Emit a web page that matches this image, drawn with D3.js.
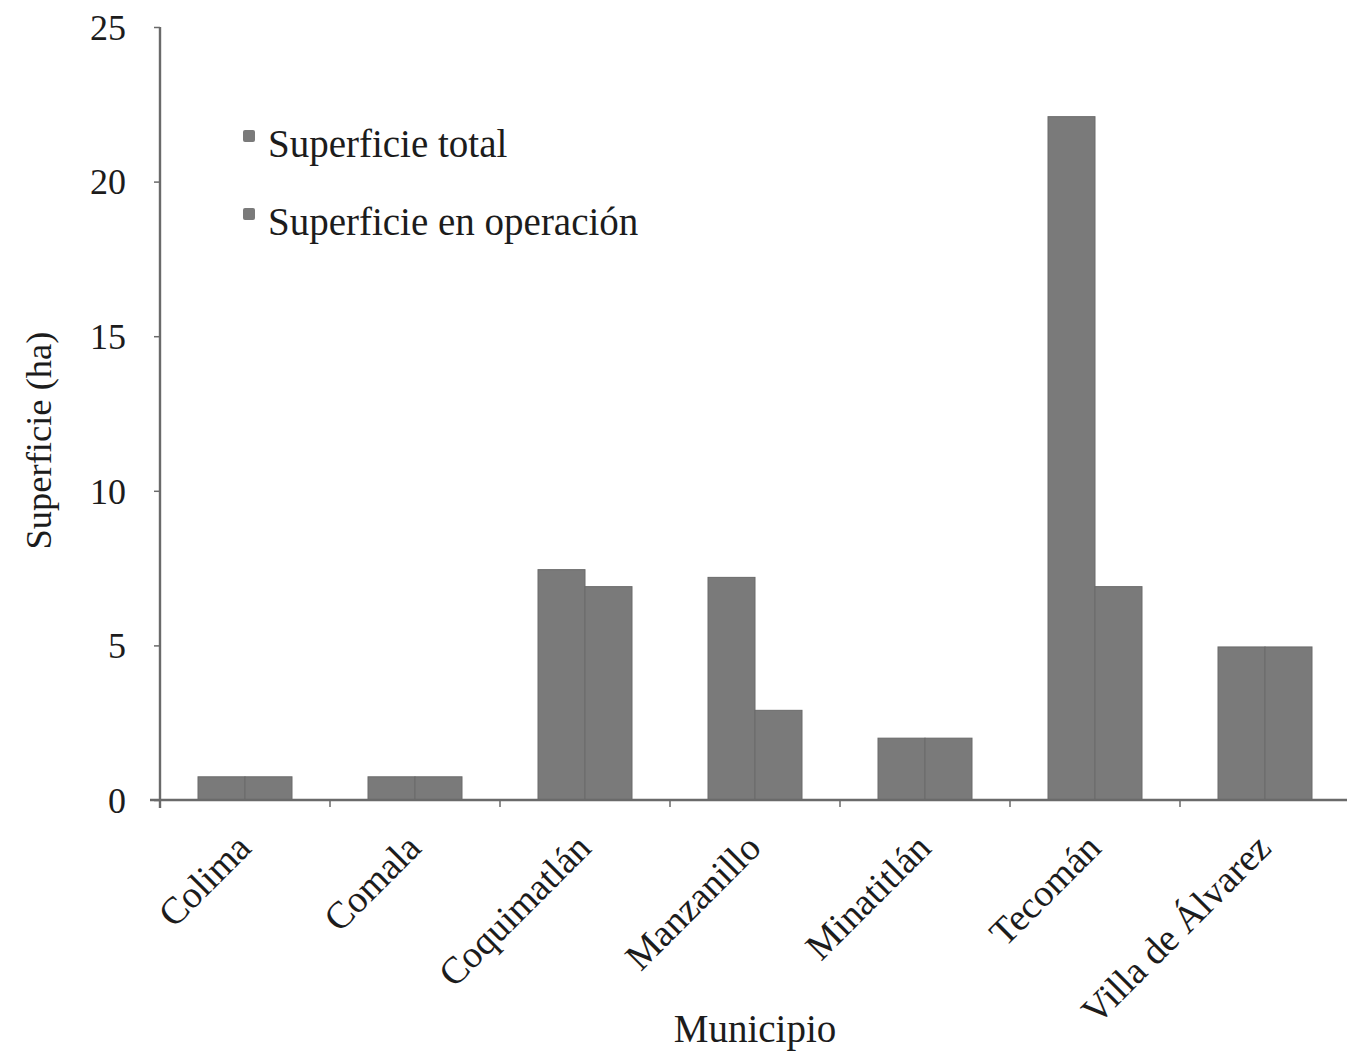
<!DOCTYPE html>
<html>
<head>
<meta charset="utf-8">
<script src="https://cdn.jsdelivr.net/npm/d3@7/dist/d3.min.js"></script>
<style>
  html, body { margin: 0; padding: 0; background: #ffffff; }
  svg { display: block; }
  text { font-family: "Liberation Serif", "Times New Roman", serif; fill: #1c1c1c; }
</style>
</head>
<body>
<svg id="chart" width="1347" height="1058"></svg>
<script>
const categories = ["Colima", "Comala", "Coquimatlán", "Manzanillo", "Minatitlán", "Tecomán", "Villa de Álvarez"];
const seriesNames = ["Superficie total", "Superficie en operación"];
const superficieTotal = [0.75, 0.75, 7.45, 7.2, 2.0, 22.1, 4.95];
const superficieOperacion = [0.75, 0.75, 6.9, 2.9, 2.0, 6.9, 4.95];
const yTicks = [0, 5, 10, 15, 20, 25];
const yTitle = "Superficie (ha)";
const xTitle = "Municipio";

const rows = categories.map((c, i) => ({
  cat: c,
  values: [
    { key: seriesNames[0], v: superficieTotal[i] },
    { key: seriesNames[1], v: superficieOperacion[i] }
  ]
}));

const svg = d3.select("#chart");
const axisColor = "#6a6a6a";
const barColor = ["#7a7a7a", "#7a7a7a"];

const x = d3.scaleBand().domain(categories).range([160, 1350]).padding(0);
const x1 = d3.scaleBand().domain(seriesNames).range([38, x.bandwidth() - 38]).padding(0);
const y = d3.scaleLinear().domain([0, 25]).range([800, 27]);

// bars
const groups = svg.append("g").selectAll("g")
  .data(rows).join("g")
  .attr("transform", d => `translate(${x(d.cat)},0)`);
groups.selectAll("rect")
  .data(d => d.values).join("rect")
  .attr("x", d => x1(d.key))
  .attr("y", d => y(d.v))
  .attr("width", x1.bandwidth())
  .attr("height", d => y(0) - y(d.v))
  .attr("fill", (d, i) => barColor[i])
  .attr("stroke", "#6a6a6a")
  .attr("stroke-width", 1);

// y axis
const yAxis = svg.append("g")
  .attr("transform", "translate(160,0)")
  .call(d3.axisLeft(y).tickValues(yTicks).tickSize(6).tickSizeOuter(0).tickPadding(28));
yAxis.select(".domain").attr("stroke", axisColor).attr("stroke-width", 2.4)
  .attr("d", `M0,${y(25)}V${y(0) + 8}`);
yAxis.selectAll(".tick line").attr("stroke", axisColor).attr("stroke-width", 1.5);
yAxis.selectAll(".tick text")
  .style("font-size", "36px")
  .attr("fill", "#1c1c1c")
  .attr("dy", "0.34em");

// x axis
const xAxis = svg.append("g")
  .attr("transform", `translate(0,${y(0)})`)
  .call(d3.axisBottom(x).tickSize(0).tickSizeOuter(0));
xAxis.select(".domain").attr("stroke", axisColor).attr("stroke-width", 2.4)
  .attr("d", "M150,0H1347");
xAxis.selectAll(".tick text")
  .style("font-size", "38px")
  .attr("fill", "#1c1c1c")
  .attr("text-anchor", "end")
  .attr("x", 0).attr("y", 0).attr("dy", 0)
  .attr("transform", "translate(8,50) rotate(-45)");
// category boundary ticks
svg.append("g").selectAll("line")
  .data(categories).join("line")
  .attr("x1", d => x(d)).attr("x2", d => x(d))
  .attr("y1", y(0)).attr("y2", y(0) + 7)
  .attr("stroke", axisColor).attr("stroke-width", 1.5);

// axis titles
svg.append("text")
  .attr("transform", `translate(51,${(y(0) + y(25)) / 2 + 27}) rotate(-90)`)
  .attr("text-anchor", "middle")
  .style("font-size", "36.5px")
  .text(yTitle);
svg.append("text")
  .attr("x", 755).attr("y", 1042)
  .attr("text-anchor", "middle")
  .style("font-size", "39px")
  .text(xTitle);

// legend
const legend = svg.append("g").selectAll("g")
  .data(seriesNames).join("g")
  .attr("transform", (d, i) => `translate(243,${130 + i * 78})`);
legend.append("rect")
  .attr("width", 12).attr("height", 12).attr("rx", 2)
  .attr("fill", (d, i) => barColor[i]);
legend.append("text")
  .attr("x", 25).attr("y", 27)
  .style("font-size", "39px")
  .text(d => d);
</script>
</body>
</html>
